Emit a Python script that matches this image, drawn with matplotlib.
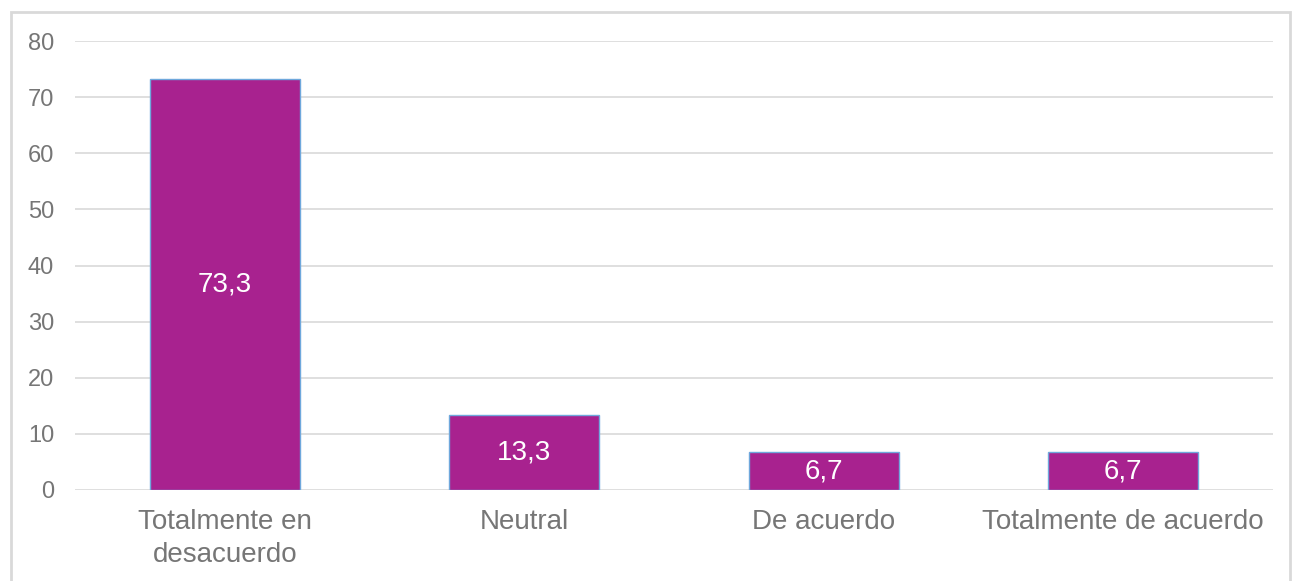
import matplotlib
matplotlib.use("Agg")
import matplotlib.pyplot as plt
from matplotlib.patches import Rectangle

categories = ["Totalmente en\ndesacuerdo", "Neutral", "De acuerdo", "Totalmente de acuerdo"]
values = [73.3, 13.3, 6.7, 6.7]
value_labels = ["73,3", "13,3", "6,7", "6,7"]
yticks = [0, 10, 20, 30, 40, 50, 60, 70, 80]

plt.rcParams['font.family'] = ['Liberation Sans', 'DejaVu Sans']

W, H = 1293, 581
fig = plt.figure(figsize=(W / 100, H / 100), dpi=100)
fig.patch.set_facecolor("white")

# chart border
fig.add_artist(Rectangle((11 / W, -0.05), (1290 - 11) / W, 1.05 - 12 / H,
                         transform=fig.transFigure, fill=False,
                         edgecolor="#D9D9D9", linewidth=2))

ax = fig.add_axes([75 / W, 91 / H, (1273 - 75) / W, (490 - 41) / H])
x = list(range(len(categories)))
bars = ax.bar(x, values, width=0.5, color="#A8228F", edgecolor="#6FA8DC",
              linewidth=1.0, zorder=3)
for xi, v, lab in zip(x, values, value_labels):
    ax.text(xi, v / 2, lab, ha="center", va="center", color="white",
            fontsize=20, zorder=4)

ax.set_xlim(-0.5, len(categories) - 0.5)
ax.set_ylim(0, 80)
ax.set_yticks(yticks)
ax.set_yticklabels([str(t) for t in yticks])
ax.set_xticks(x)
ax.set_xticklabels(categories, linespacing=1.35)
ax.tick_params(axis="y", length=0, pad=15, labelsize=17, labelcolor="#767676")
ax.tick_params(axis="x", length=0, pad=14, labelsize=20, labelcolor="#767676")
for s in ax.spines.values():
    s.set_visible(False)
ax.yaxis.grid(True, color="#D9D9D9", linewidth=1.2, zorder=0)
ax.set_axisbelow(True)

fig.savefig("out.png", dpi=100)
